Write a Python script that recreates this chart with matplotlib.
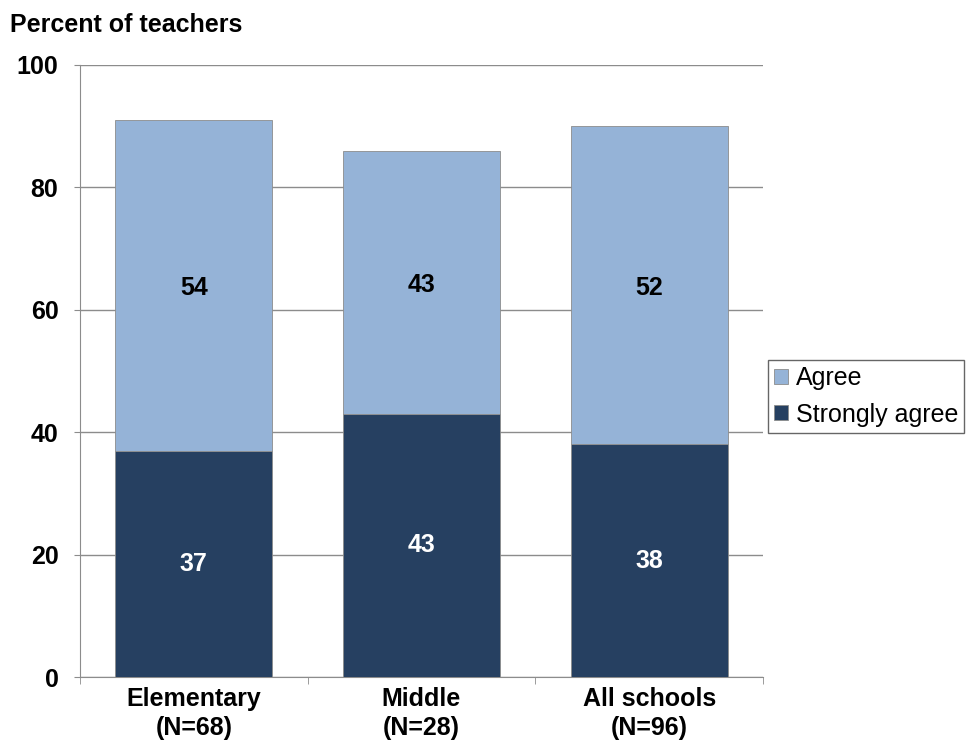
import matplotlib.pyplot as plt
import numpy as np

plt.rcParams['font.family'] = ['Liberation Sans', 'DejaVu Sans']

categories = ['Elementary\n(N=68)', 'Middle\n(N=28)', 'All schools\n(N=96)']
strongly_agree = [37, 43, 38]
agree = [54, 43, 52]

DARK = '#264061'
LIGHT = '#95B3D7'
FS = 18

fig = plt.figure(figsize=(9.68, 7.42), dpi=100)
ax = fig.add_axes([0.0826, 0.0876, 0.7056, 0.8248])

x = np.arange(len(categories))
w = 0.69
b1 = ax.bar(x, strongly_agree, w, color=DARK, edgecolor='#8c8c8c', lw=0.6, label='Strongly agree', zorder=3)
b2 = ax.bar(x, agree, w, bottom=strongly_agree, color=LIGHT, edgecolor='#8c8c8c', lw=0.6, label='Agree', zorder=3)

for xi, s, a in zip(x, strongly_agree, agree):
    ax.text(xi, s / 2, str(s), ha='center', va='center', color='white', fontsize=FS, fontweight='bold', zorder=4)
    ax.text(xi, s + a / 2 - 0.4, str(a), ha='center', va='center', color='black', fontsize=FS, fontweight='bold', zorder=4)

ax.set_xlim(-0.5, 2.5)
ax.set_ylim(0, 100)
ax.set_yticks(range(0, 101, 20))
ax.set_xticks(x)
ax.set_xticklabels(categories, fontsize=FS, fontweight='bold', linespacing=1.3)
ax.set_xticks([-0.5, 0.5, 1.5, 2.5], minor=True)
ax.tick_params(axis='x', which='major', length=0, pad=7)
ax.tick_params(axis='x', which='minor', length=5, color='#8c8c8c', direction='out')
ax.tick_params(axis='y', length=4.5, color='#8c8c8c', labelsize=FS, pad=11)
for lbl in ax.get_yticklabels():
    lbl.set_fontweight('bold')
ax.yaxis.grid(True, color='#8c8c8c', lw=1, zorder=0)
for s in ['top', 'right']:
    ax.spines[s].set_visible(False)
ax.spines['left'].set_color('#8c8c8c')
ax.spines['bottom'].set_color('#8c8c8c')

fig.text(0.0103, 0.966, 'Percent of teachers', fontsize=FS, fontweight='bold', va='center')

leg = fig.legend(handles=[b2, b1], labels=['Agree', 'Strongly agree'], loc='upper left',
                 bbox_to_anchor=(768 / 968, 1 - 360 / 742), fontsize=FS, frameon=True, fancybox=False,
                 handlelength=0.55, handleheight=0.55, handletextpad=0.3, borderpad=0.25,
                 labelspacing=0.5, borderaxespad=0)
leg.get_frame().set_edgecolor('#404040')
leg.get_frame().set_linewidth(1.0)
for h in leg.legend_handles:
    h.set_edgecolor('#8c8c8c')

fig.savefig('out.png', dpi=100)
